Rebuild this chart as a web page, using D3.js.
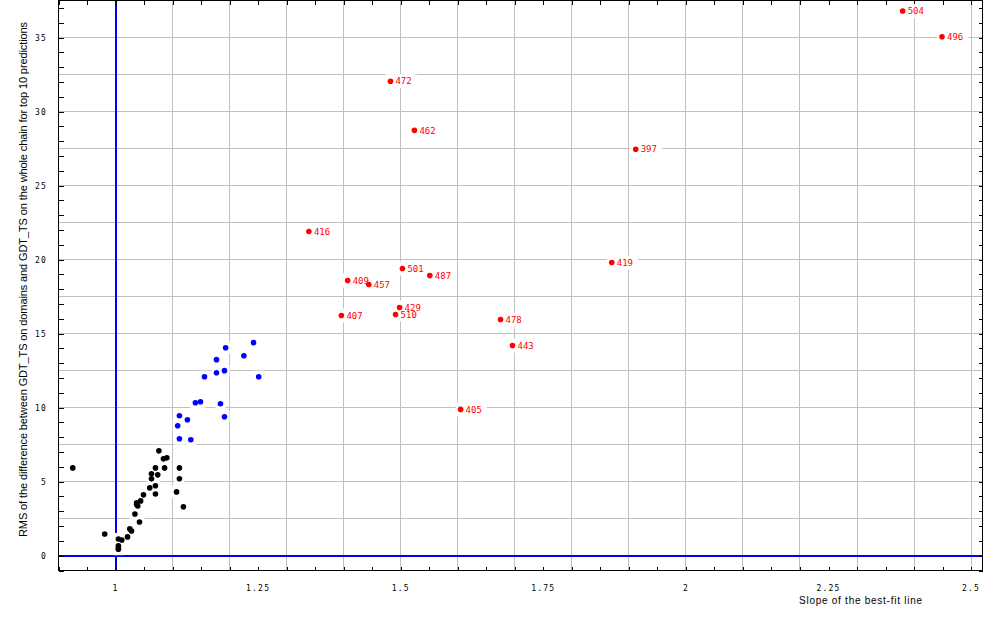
<!DOCTYPE html>
<html><head><meta charset="utf-8">
<script src="https://cdn.jsdelivr.net/npm/d3@7"></script>
<style>body{margin:0;background:#fff}svg{display:block}</style>
</head><body>
<svg id="c" width="1000" height="618"></svg>
<script>
// ---- data ----
const xTitle = "Slope of the best-fit line";
const yTitle = "RMS of the difference between GDT_TS on domains and GDT_TS on the whole chain for top 10 predictions";
const xTickLabels = [1, 1.25, 1.5, 1.75, 2, 2.25, 2.5];
const yTickLabels = [0, 5, 10, 15, 20, 25, 30, 35];
const xDomain = [0.9, 2.52];
const yDomain = [-1, 37.5];

const blackX = [0.925,0.981,1.005,1.011,1.005,1.005,1.005,1.021,1.025,1.028,1.034,1.042,1.037,1.039,1.037,1.044,1.049,1.060,1.070,1.070,1.063,1.063,1.074,1.070,1.086,1.076,1.084,1.090,1.112,1.112,1.107,1.119];
const blackY = [5.93,1.47,1.13,1.06,0.66,0.52,0.44,1.27,1.81,1.67,2.82,2.28,3.57,3.36,3.45,3.70,4.11,4.58,4.17,4.72,5.19,5.53,5.46,5.93,5.93,7.08,6.54,6.61,5.93,5.19,4.31,3.30];

const blueX = [1.193,1.242,1.225,1.177,1.177,1.191,1.156,1.251,1.140,1.149,1.184,1.112,1.126,1.191,1.109,1.112,1.132];
const blueY = [14.05,14.39,13.51,13.24,12.36,12.50,12.09,12.09,10.33,10.40,10.26,9.45,9.18,9.38,8.78,7.90,7.83];

const redIds = ["504","496","472","462","397","416","501","487","409","457","429","510","407","478","443","419","405"];
const redX = [2.380,2.449,1.482,1.524,1.912,1.339,1.503,1.551,1.407,1.444,1.498,1.491,1.396,1.675,1.696,1.870,1.605];
const redY = [36.79,35.05,32.05,28.73,27.45,21.90,19.40,18.92,18.59,18.32,16.76,16.29,16.22,15.95,14.19,19.80,9.88];

// ---- layout ----
const L = 58.5, R = 982.5, T = 0.5, B = 570.5;
const svg = d3.select("#c");
const x = d3.scaleLinear().domain(xDomain).range([L, R]);
const y = d3.scaleLinear().domain(yDomain).range([B, T]);

const gridX = d3.range(1.0, 2.5001, 0.1);
const gridY = d3.range(0, 37.5001, 2.5);
const minorX = d3.range(0.9, 2.5201, 0.05);
const minorY = d3.range(-1, 37.0001, 1);

// grid
const g = svg.append("g").attr("shape-rendering","crispEdges");
g.selectAll(".gx").data(gridX).join("line")
  .attr("x1", d=>x(d)).attr("x2", d=>x(d)).attr("y1", T).attr("y2", B)
  .attr("stroke","#c0c0c0").attr("stroke-width",1);
g.selectAll(".gy").data(gridY).join("line")
  .attr("y1", d=>y(d)).attr("y2", d=>y(d)).attr("x1", L).attr("x2", R)
  .attr("stroke","#c0c0c0").attr("stroke-width",1);

// blue reference lines
g.append("line").attr("x1",x(1)).attr("x2",x(1)).attr("y1",T).attr("y2",B)
  .attr("stroke","#0000ff").attr("stroke-width",2);
g.append("line").attr("x1",L).attr("x2",R).attr("y1",y(0)).attr("y2",y(0))
  .attr("stroke","#0000ff").attr("stroke-width",2);

// axes (inward ticks)
function styleAxis(sel){
  sel.attr("shape-rendering","crispEdges");
  sel.select(".domain").remove();
  sel.selectAll(".tick line").attr("stroke","#000");
  sel.selectAll(".tick text").remove();
}
svg.append("g").attr("transform",`translate(0,${B})`)
  .call(d3.axisBottom(x).tickValues(minorX).tickSize(-4).tickFormat("")).call(styleAxis);
svg.append("g").attr("transform",`translate(0,${T})`)
  .call(d3.axisTop(x).tickValues(minorX).tickSize(-4).tickFormat("")).call(styleAxis);
svg.append("g").attr("transform",`translate(${L},0)`)
  .call(d3.axisLeft(y).tickValues(minorY).tickSize(-5).tickFormat("")).call(styleAxis);
svg.append("g").attr("transform",`translate(${R},0)`)
  .call(d3.axisRight(y).tickValues(minorY).tickSize(-4).tickFormat("")).call(styleAxis);

// frame
svg.append("rect").attr("x",L).attr("y",T).attr("width",R-L).attr("height",B-T)
  .attr("fill","none").attr("stroke","#000").attr("shape-rendering","crispEdges");

// tick labels
const tickFont = "'DejaVu Sans Mono', monospace";
svg.append("g").selectAll("text").data(xTickLabels).join("text")
  .attr("x", d=>x(d)).attr("y", 591).attr("text-anchor","middle")
  .attr("font-family",tickFont).attr("font-size","8px").attr("letter-spacing","1.2px")
  .attr("fill","#000").text(d=>String(d));
svg.append("g").selectAll("text").data(yTickLabels).join("text")
  .attr("x", 47).attr("y", d=>y(d)+3).attr("text-anchor","end")
  .attr("font-family",tickFont).attr("font-size","8px").attr("letter-spacing","1.2px")
  .attr("fill","#000").text(d=>String(d));

// axis titles
svg.append("text").attr("x",799).attr("y",604)
  .attr("font-family","'Liberation Sans', Arial, sans-serif").attr("font-size","10px")
  .attr("textLength",123).attr("lengthAdjust","spacing").attr("fill","#000").text(xTitle);
svg.append("text").attr("transform","translate(27,537) rotate(-90)")
  .attr("font-family","'Liberation Sans', Arial, sans-serif").attr("font-size","11px")
  .attr("textLength",515).attr("lengthAdjust","spacing").attr("fill","#000").text(yTitle);

// points
const black = blackX.map((v,i)=>({x:v,y:blackY[i],c:"#000"}));
const blue = blueX.map((v,i)=>({x:v,y:blueY[i],c:"#0000ff"}));
const red = redX.map((v,i)=>({x:v,y:redY[i],c:"#ff0000",id:redIds[i]}));
const plain = black.concat(blue);

const boxes = svg.append("g");
const marks = svg.append("g");

boxes.selectAll("rect.p").data(plain).join("rect")
  .attr("x",d=>x(d.x)-5).attr("y",d=>y(d.y)-6).attr("width",10).attr("height",12)
  .attr("fill","#fff");
marks.selectAll("circle.p").data(plain).join("circle")
  .attr("cx",d=>x(d.x)).attr("cy",d=>y(d.y)).attr("r",2.8).attr("fill",d=>d.c);

const labFont = "'DejaVu Sans Mono', monospace";
red.forEach(d=>{
  const cx = x(d.x), cy = y(d.y);
  const br = boxes.append("rect").attr("fill","#fff");
  marks.append("circle").attr("cx",cx).attr("cy",cy).attr("r",2.8).attr("fill",d.c);
  const t = marks.append("text").attr("x",cx+5).attr("y",cy+3.2)
    .attr("font-family",labFont).attr("font-size","9px").attr("fill","#ff0000").text(d.id);
  const w = t.node().getComputedTextLength();
  br.attr("x",cx-5).attr("y",cy-7).attr("width",w+15).attr("height",14);
});
</script>
</body></html>
